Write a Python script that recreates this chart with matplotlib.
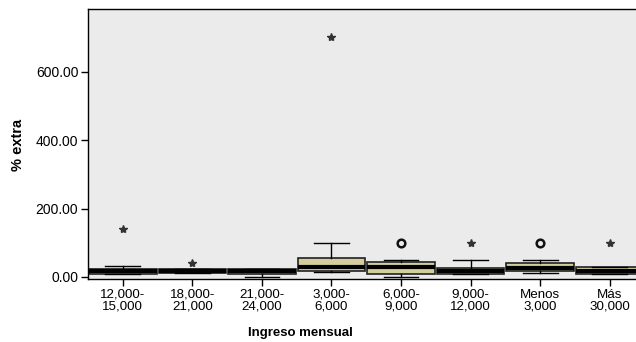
import matplotlib
matplotlib.use("Agg")
import matplotlib.pyplot as plt

plt.rcParams['font.family'] = ['Liberation Sans', 'DejaVu Sans']

# income groups and box statistics for "% extra"
categories = ['12,000-\n15,000', '18,000-\n21,000', '21,000-\n24,000', '3,000-\n6,000',
              '6,000-\n9,000', '9,000-\n12,000', 'Menos\n3,000', 'Más\n30,000']
q1 = [9, 12, 10, 18, 10, 10, 18, 10]
medians = [16, 18, 17, 30, 29, 18, 25, 18]
q3 = [24, 23, 23, 55, 43, 26, 40, 30]
whisk_lo = [9, 12, 0, 15, 0, 10, 12, 10]
whisk_hi = [31, 23, 23, 100, 50, 50, 50, 30]

# extreme values (stars) and outliers (circles): (group index, value)
extremes = [(0, 140), (1, 40), (3, 700), (5, 100), (7, 100)]
outliers = [(4, 100), (6, 100)]

fig = plt.figure(figsize=(6.36, 3.42), dpi=100)
ax = fig.add_axes([88 / 636, 63 / 342, 556.5 / 636, 270 / 342])
ax.set_facecolor('#EBEBEB')

stats = []
for i in range(len(categories)):
    stats.append({'q1': q1[i], 'med': medians[i], 'q3': q3[i],
                  'whislo': whisk_lo[i], 'whishi': whisk_hi[i], 'fliers': []})

pos = list(range(len(categories)))
ax.bxp(stats, positions=pos, widths=0.97, patch_artist=True, showfliers=False,
       boxprops=dict(facecolor='#D4CE9E', edgecolor='#222222', linewidth=1.2),
       medianprops=dict(color='black', linewidth=3.0, solid_capstyle='butt'),
       whiskerprops=dict(color='black', linewidth=1.0),
       capprops=dict(color='black', linewidth=1.0), capwidths=0.5)

ax.plot([e[0] for e in extremes], [e[1] for e in extremes], linestyle='none',
        marker='*', markersize=6, color='#333333')
ax.plot([o[0] for o in outliers], [o[1] for o in outliers], linestyle='none',
        marker='o', markersize=5.5, markerfacecolor='none',
        markeredgecolor='#111111', markeredgewidth=1.8)

ax.set_xlim(-0.5, len(categories) - 0.5)
ax.set_ylim(-6, 783)
ax.set_yticks([0, 200, 400, 600])
ax.set_yticklabels(['0.00', '200.00', '400.00', '600.00'], fontsize=10)
ax.set_xticks(pos)
ax.set_xticklabels(categories, fontsize=9.6, linespacing=0.95)
ax.tick_params(axis='both', direction='out', length=5, width=1, color='black', pad=2)
for s in ax.spines.values():
    s.set_color('black')
    s.set_linewidth(1)

fig.text(300 / 636, 1 - 333 / 342, 'Ingreso mensual', ha='center', va='center',
         fontsize=9.5, fontweight='bold')
fig.text(18 / 636, 1 - 145 / 342, '% extra', ha='center', va='center',
         rotation=90, fontsize=10.5, fontweight='bold')

fig.savefig('out.png', dpi=100, facecolor='white')
